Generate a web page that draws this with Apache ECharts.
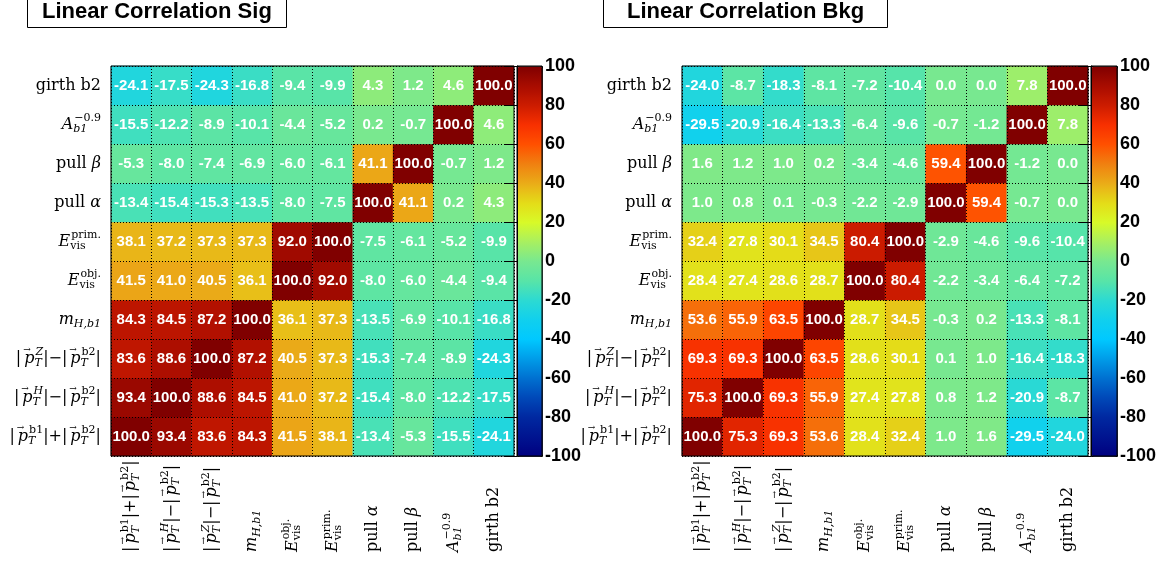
<!DOCTYPE html>
<html><head><meta charset="utf-8">
<script src="https://cdn.jsdelivr.net/npm/echarts@6/dist/echarts.min.js"></script>
<style>html,body{margin:0;padding:0;background:#fff}#c{width:1167px;height:562px}</style>
</head><body><div id="c"></div><script>
// Variables (x left->right, y bottom->top), as rich-text labels
const variables = [
  '{rm||}{arr|\u2192}{it|p}{subwi|T}{sup|b1}{rm||+|}{arr|\u2192}{it|p}{subwi|T}{sup|b2}{rm||}',
  '{rm||}{arr|\u2192}{it|p}{subwi|T}{supi|H}{rm||\u2212|}{arr|\u2192}{it|p}{subwi|T}{sup|b2}{rm||}',
  '{rm||}{arr|\u2192}{it|p}{subwi|T}{supi|Z}{rm||\u2212|}{arr|\u2192}{it|p}{subwi|T}{sup|b2}{rm||}',
  '{it|m}{subi|H,b1}',
  '{it|E}{subw|vis}{sup|obj.}',
  '{it|E}{subw|vis}{sup|prim.}',
  '{rm|pull }{it|\u03B1}',
  '{rm|pull }{it|\u03B2}',
  '{it|A}{subwi|b1}{sup|\u22120.9}',
  '{rm|girth b2}'
];
const titleSig = 'Linear Correlation Sig';
const titleBkg = 'Linear Correlation Bkg';
const colorbarTicks = {min: -100, max: 100, step: 20};

// Rows listed bottom (index 0) to top (index 9); columns follow `variables`
const sigRows = [
  [100.0, 93.4, 83.6, 84.3, 41.5, 38.1, -13.4, -5.3, -15.5, -24.1],
  [93.4, 100.0, 88.6, 84.5, 41.0, 37.2, -15.4, -8.0, -12.2, -17.5],
  [83.6, 88.6, 100.0, 87.2, 40.5, 37.3, -15.3, -7.4, -8.9, -24.3],
  [84.3, 84.5, 87.2, 100.0, 36.1, 37.3, -13.5, -6.9, -10.1, -16.8],
  [41.5, 41.0, 40.5, 36.1, 100.0, 92.0, -8.0, -6.0, -4.4, -9.4],
  [38.1, 37.2, 37.3, 37.3, 92.0, 100.0, -7.5, -6.1, -5.2, -9.9],
  [-13.4, -15.4, -15.3, -13.5, -8.0, -7.5, 100.0, 41.1, 0.2, 4.3],
  [-5.3, -8.0, -7.4, -6.9, -6.0, -6.1, 41.1, 100.0, -0.7, 1.2],
  [-15.5, -12.2, -8.9, -10.1, -4.4, -5.2, 0.2, -0.7, 100.0, 4.6],
  [-24.1, -17.5, -24.3, -16.8, -9.4, -9.9, 4.3, 1.2, 4.6, 100.0]
];
const bkgRows = [
  [100.0, 75.3, 69.3, 53.6, 28.4, 32.4, 1.0, 1.6, -29.5, -24.0],
  [75.3, 100.0, 69.3, 55.9, 27.4, 27.8, 0.8, 1.2, -20.9, -8.7],
  [69.3, 69.3, 100.0, 63.5, 28.6, 30.1, 0.1, 1.0, -16.4, -18.3],
  [53.6, 55.9, 63.5, 100.0, 28.7, 34.5, -0.3, 0.2, -13.3, -8.1],
  [28.4, 27.4, 28.6, 28.7, 100.0, 80.4, -2.2, -3.4, -6.4, -7.2],
  [32.4, 27.8, 30.1, 34.5, 80.4, 100.0, -2.9, -4.6, -9.6, -10.4],
  [1.0, 0.8, 0.1, -0.3, -2.2, -2.9, 100.0, 59.4, -0.7, 0.0],
  [1.6, 1.2, 1.0, 0.2, -3.4, -4.6, 59.4, 100.0, -1.2, 0.0],
  [-29.5, -20.9, -16.4, -13.3, -6.4, -9.6, -0.7, -1.2, 100.0, 7.8],
  [-24.0, -8.7, -18.3, -8.1, -7.2, -10.4, 0.0, 0.0, 7.8, 100.0]
];

// palette, evenly spaced from -100 to 100 in steps of 10
const palette = ['#000080','#001490','#0028a0','#0048b8','#0070d0','#009ce8','#00c8ff','#10d0ee','#2cdad2','#58e4a8',
  '#78e890','#a8f060','#d8fa28','#e4dc18','#eaac18','#f08010','#ff5000','#f83000','#cc1c00','#a80c00','#800000'];

function toCells(rows) {
  const out = [];
  rows.forEach((row, y) => row.forEach((v, x) => out.push([x, y, v])));
  return out;
}

const serif = 'DejaVu Serif';
const FS = 16, SS = 11;
const rich = {
  rm: {fontFamily: serif, fontSize: FS, color: '#000', align: 'left'},
  it: {fontFamily: serif, fontStyle: 'italic', fontSize: FS, color: '#000', align: 'left'},
  arr: {fontFamily: serif, fontSize: 9, padding: [0, 0, 17, 2], width: 1, color: '#000', align: 'left'},
  sup: {fontFamily: serif, fontSize: SS, padding: [0, 0, 12, 0], color: '#000', align: 'left'},
  supi: {fontFamily: serif, fontStyle: 'italic', fontSize: SS, padding: [0, 0, 12, 0], color: '#000', align: 'left'},
  subi: {fontFamily: serif, fontStyle: 'italic', fontSize: SS, padding: [10, 0, 0, 0], color: '#000', align: 'left'},
  subw: {fontFamily: serif, fontSize: SS, padding: [10, 0, 0, 0], width: 1, color: '#000', align: 'left'},
  subwi: {fontFamily: serif, fontStyle: 'italic', fontSize: SS, padding: [10, 0, 0, 0], width: 1, color: '#000', align: 'left'}
};

const panels = [
  {grid: {left: 111, top: 66, width: 403, height: 390}, bar: {left: 517, width: 25}, rows: sigRows, title: titleSig, titleLeft: 27, titlePad: 15},
  {grid: {left: 682, top: 66, width: 406, height: 390}, bar: {left: 1091, width: 26}, rows: bkgRows, title: titleBkg, titleLeft: 603, titlePad: 24}
];

const option = {
  animation: false,
  backgroundColor: '#fff',
  title: [], grid: [], xAxis: [], yAxis: [], series: [], visualMap: [], graphic: []
};

panels.forEach((p, i) => {
  option.title.push({
    text: p.title, left: p.titleLeft, top: -3,
    padding: [2, p.titlePad, 3, p.titlePad],
    borderColor: '#000', borderWidth: 1, backgroundColor: '#fff',
    textStyle: {fontFamily: 'Liberation Sans', fontWeight: 'bold', fontSize: 22, color: '#000', lineHeight: 26}
  });
  option.grid.push(Object.assign({containLabel: false}, p.grid));
  option.grid.push({left: p.bar.left, top: p.grid.top, width: p.bar.width, height: p.grid.height});
  const gh = i * 2, gc = i * 2 + 1;
  const split = {show: true, lineStyle: {type: [1, 2], color: '#000', width: 1}};
  option.xAxis.push({
    type: 'category', gridIndex: gh, data: variables, z: 10,
    axisLine: {show: false}, axisTick: {show: false}, splitLine: split,
    axisLabel: {rotate: 90, align: 'left', margin: 96, interval: 0, fontFamily: serif, fontSize: FS, color: '#000', rich: rich}
  });
  option.yAxis.push({
    type: 'category', gridIndex: gh, data: variables, z: 10,
    axisLine: {show: false}, axisTick: {show: false}, splitLine: split,
    axisLabel: {margin: 10, interval: 0, fontFamily: serif, fontSize: FS, color: '#000', rich: rich}
  });
  option.xAxis.push({type: 'value', gridIndex: gc, show: false, min: 0, max: 1});
  option.yAxis.push({
    type: 'value', gridIndex: gc, position: 'right', z: 10,
    min: colorbarTicks.min, max: colorbarTicks.max, interval: colorbarTicks.step,
    axisLine: {show: true, lineStyle: {color: '#000', width: 1}},
    axisTick: {show: true, inside: true, length: 12, lineStyle: {color: '#000', width: 1}},
    splitLine: {show: false},
    axisLabel: {margin: 3, fontFamily: 'Liberation Sans', fontWeight: 'bold', fontSize: 18, color: '#000'}
  });
  option.series.push({
    type: 'heatmap', xAxisIndex: gh, yAxisIndex: gh, data: toCells(p.rows),
    label: {show: true, color: '#fff', fontFamily: 'Liberation Sans', fontWeight: 'bold', fontSize: 15,
      formatter: q => q.value[2].toFixed(1)},
    itemStyle: {borderWidth: 0},
    emphasis: {disabled: true}
  });
  option.visualMap.push({
    type: 'continuous', seriesIndex: i, min: colorbarTicks.min, max: colorbarTicks.max,
    calculable: false, hoverLink: false, left: p.bar.left, top: p.grid.top,
    itemWidth: p.bar.width, itemHeight: p.grid.height, padding: 0,
    borderColor: '#000', borderWidth: 1, text: null,
    inRange: {color: palette}
  });
  option.graphic.push({
    type: 'rect', z: 100, silent: true,
    shape: {x: p.grid.left, y: p.grid.top, width: p.grid.width, height: p.grid.height},
    style: {fill: 'none', stroke: '#000', lineWidth: 1}
  });
  option.graphic.push({
    type: 'rect', z: 100, silent: true,
    shape: {x: p.bar.left, y: p.grid.top, width: p.bar.width, height: p.grid.height},
    style: {fill: 'none', stroke: '#000', lineWidth: 1}
  });
});

const chart = echarts.init(document.getElementById('c'), null, {renderer: 'canvas'});
chart.setOption(option);
</script></body></html>
